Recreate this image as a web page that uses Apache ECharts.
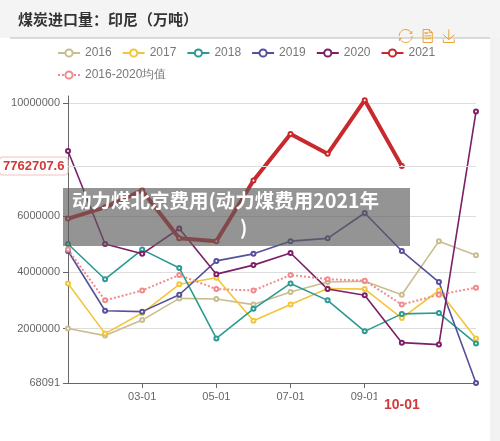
<!DOCTYPE html>
<html><head><meta charset="utf-8">
<script src="https://cdn.jsdelivr.net/npm/echarts@6/dist/echarts.min.js"></script>
<style>html,body{margin:0;padding:0;background:#fff}#c{width:500px;height:441px}</style>
</head><body><div id="c"></div>
<script>
const categories=['01-01','02-01','03-01','04-01','05-01','06-01','07-01','08-01','09-01','10-01','11-01','12-01'];
const s2016=[2000000,1750000,2300000,3070000,3050000,2850000,3300000,3650000,3680000,3200000,5100000,4600000];
const s2017=[3600000,1820000,2550000,3570000,3800000,2280000,2850000,3420000,3400000,2370000,3350000,1650000];
const s2018=[5000000,3750000,4800000,4150000,1650000,2700000,3600000,3000000,1900000,2520000,2550000,1470000];
const s2019=[4750000,2630000,2600000,3200000,4400000,4650000,5100000,5200000,6100000,4750000,3650000,68091];
const s2020=[8300000,5000000,4650000,5550000,3930000,4250000,4680000,3400000,3180000,1500000,1430000,9700000];
const s2021=[5900000,6300000,6900000,5200000,5100000,7250000,8900000,8200000,10100000,7762707.6];
const sAvg=[4800000,3000000,3350000,3900000,3400000,3350000,3900000,3750000,3700000,2850000,3200000,3450000];
const yTicks=[68091,2000000,4000000,6000000,10000000];
const names=['2016','2017','2018','2019','2020','2021','2016-2020均值'];
const colors=['#c9bd8f','#f3c53a','#2b9a92','#55509a','#7d1f66','#c9282d','#f08b8b'];
const datas=[s2016,s2017,s2018,s2019,s2020,s2021,sAvg];
const chart=echarts.init(document.getElementById('c'));
const series=names.map((n,i)=>({
  name:n,type:'line',data:datas[i],symbol:'emptyCircle',symbolSize:4,
  itemStyle:{color:colors[i]},
  lineStyle:{width:i===5?4:(i===6?2:1.6),type:i===6?'dotted':'solid',color:colors[i]},
  z:i===5?5:2
}));
chart.setOption({
  animation:false,
  color:colors,
  graphic:[
    {type:'rect',left:0,top:0,shape:{width:500,height:38},style:{fill:'#f4f4f4'},z:-1},
    {type:'line',shape:{x1:10,y1:38,x2:490,y2:38},style:{stroke:'#bbb',lineWidth:1}},
    {type:'rect',left:490,top:38,shape:{width:10,height:403},style:{fill:'#f2f2f2'},z:-1},
    {type:'text',left:18,top:12,style:{text:'煤炭进口量：印尼（万吨）',font:'bold 15px "Noto Sans CJK SC"',fill:'#333'}},
    {type:'rect',left:63,top:188,shape:{width:347,height:58},style:{fill:'rgba(90,90,90,0.65)'},z:100},
    {type:'text',left:72,top:191,style:{text:'动力煤北京费用(动力煤费用2021年',font:'bold 19.5px "Noto Sans CJK SC"',fill:'#fff'},z:101},
    {type:'text',left:240,top:218,style:{text:')',font:'bold 19.5px "Noto Sans CJK SC"',fill:'#fff'},z:101}
  ],
  toolbox:{right:28,top:12,itemSize:13,itemGap:6,iconStyle:{borderColor:'#e8a33a'},
    feature:{restore:{},dataView:{},saveAsImage:{}}},
  legend:{left:52,top:42,width:400,itemWidth:22,itemHeight:9,itemGap:10,
    textStyle:{color:'#777',fontSize:12},data:names},
  grid:{left:68,right:24,top:96,bottom:58},
  xAxis:{type:'category',boundaryGap:false,data:categories,
    axisLine:{lineStyle:{color:'#666'}},
    axisTick:{show:true,interval:(i)=>i%2===0&&i>0&&i<10,alignWithLabel:true,lineStyle:{color:'#666'}},
    axisLabel:{color:'#666',fontSize:11,interval:(i)=>i%2===0&&i>0&&i<10},
    axisPointer:{show:true,value:'10-01',status:'show',lineStyle:{opacity:0},
      label:{show:true,color:'#d23a3a',fontWeight:'bold',fontSize:14,backgroundColor:'#fff',margin:10}}},
  yAxis:{type:'value',min:68091,max:10250000,
    axisLine:{show:true,lineStyle:{color:'#666'}},
    axisTick:{show:true,customValues:yTicks,lineStyle:{color:'#666'}},
    axisLabel:{color:'#666',fontSize:11,customValues:yTicks,formatter:(v)=>String(v)},
    splitLine:{show:true,lineStyle:{color:'#ddd'}},
    axisPointer:{show:true,value:7762707.6,status:'show',lineStyle:{color:'#ddd',type:'solid'},
      label:{show:true,color:'#d23a3a',fontWeight:'bold',fontSize:13,backgroundColor:'#fff',
        borderColor:'#f3c0c0',borderWidth:1,borderRadius:3,padding:[2,3],
        formatter:()=> '7762707.6'}}},
  series
});
</script></body></html>
